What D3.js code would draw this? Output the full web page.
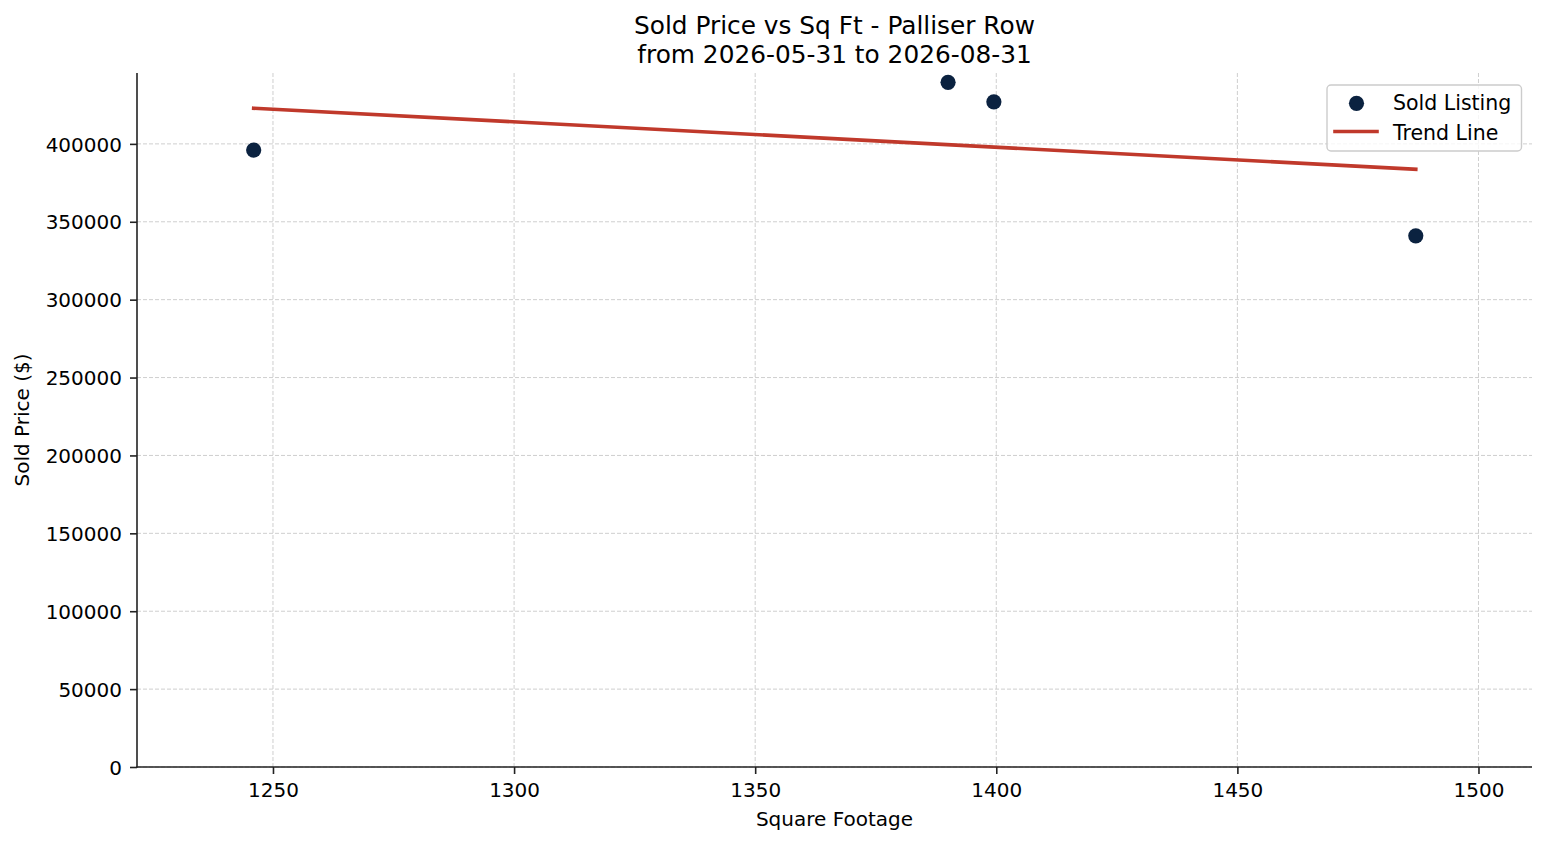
<!DOCTYPE html>
<html>
<head>
<meta charset="utf-8">
<script src="https://cdn.jsdelivr.net/npm/d3@7"></script>
<style>
  html, body { margin: 0; padding: 0; background: #fff; }
  svg { display: block; font-family: "DejaVu Sans", sans-serif; }
</style>
</head>
<body>
<svg id="chart" width="1547" height="845"></svg>
<script>
// ---- data ----
const sqft = [1246, 1390, 1399.5, 1487];
const soldPrice = [396000, 439500, 427000, 341000];
const trendSqft = [1246, 1487];
const trendPrice = [422900, 383700];
const xTicks = [1250, 1300, 1350, 1400, 1450, 1500];
const yTicks = [0, 50000, 100000, 150000, 200000, 250000, 300000, 350000, 400000];
const titleLines = ["Sold Price vs Sq Ft - Palliser Row", "from 2026-05-31 to 2026-08-31"];
const legendLabels = ["Sold Listing", "Trend Line"];

// ---- layout ----
const W = 1547, H = 845;
const m = { left: 137, top: 73, right: 1532, bottom: 767 };
const navy = "#0b2240", red = "#c0392b";

const svg = d3.select("#chart");
const x = d3.scaleLinear().domain([1221.8, 1511.1]).range([m.left, m.right]);
const y = d3.scaleLinear().domain([0, 445500]).range([m.bottom, m.top]);

// grid
const grid = svg.append("g");
grid.selectAll("line.gx").data(xTicks).join("line")
  .attr("x1", d => x(d)).attr("x2", d => x(d))
  .attr("y1", m.top).attr("y2", m.bottom)
  .attr("stroke", "#cfcfcf").attr("stroke-width", 1).attr("stroke-dasharray", "4,2");
grid.selectAll("line.gy").data(yTicks).join("line")
  .attr("x1", m.left).attr("x2", m.right)
  .attr("y1", d => y(d)).attr("y2", d => y(d))
  .attr("stroke", "#cfcfcf").attr("stroke-width", 1).attr("stroke-dasharray", "4,2");

// axes
const xAxis = d3.axisBottom(x).tickValues(xTicks).tickFormat(d3.format("d")).tickSize(7).tickPadding(8);
const yAxis = d3.axisLeft(y).tickValues(yTicks).tickFormat(d3.format("d")).tickSize(7).tickPadding(8);

const gx = svg.append("g").attr("transform", `translate(0,${m.bottom})`).call(xAxis);
const gy = svg.append("g").attr("transform", `translate(${m.left},0)`).call(yAxis);
[gx, gy].forEach(g => {
  g.select(".domain").remove();
  g.selectAll(".tick line").attr("stroke", "#222").attr("stroke-width", 1.6);
  g.selectAll(".tick text").attr("fill", "#000").style("font-size", "20px")
    .style("font-family", "'DejaVu Sans', sans-serif");
});
gx.selectAll(".tick text").attr("dy", null).attr("y", 30);
gy.selectAll(".tick text").attr("dy", "0.36em");

// spines
svg.append("line").attr("x1", m.left).attr("x2", m.left).attr("y1", m.top).attr("y2", m.bottom + 0.8)
  .attr("stroke", "#222").attr("stroke-width", 1.6);
svg.append("line").attr("x1", m.left - 0.8).attr("x2", m.right).attr("y1", m.bottom).attr("y2", m.bottom)
  .attr("stroke", "#222").attr("stroke-width", 1.6);

// trend line
const trendData = trendSqft.map((d, i) => [d, trendPrice[i]]);
svg.append("path").datum(trendData)
  .attr("d", d3.line().x(d => x(d[0])).y(d => y(d[1])))
  .attr("fill", "none").attr("stroke", red).attr("stroke-width", 3.6).attr("stroke-linecap", "square");

// points
svg.append("g").selectAll("circle").data(sqft.map((d, i) => [d, soldPrice[i]])).join("circle")
  .attr("cx", d => x(d[0])).attr("cy", d => y(d[1])).attr("r", 7.6).attr("fill", navy);

// title
svg.append("text").attr("x", (m.left + m.right) / 2).attr("y", 34).attr("text-anchor", "middle")
  .style("font-size", "24.8px").attr("fill", "#000").text(titleLines[0]);
svg.append("text").attr("x", (m.left + m.right) / 2).attr("y", 62.5).attr("text-anchor", "middle")
  .style("font-size", "24.8px").attr("fill", "#000").text(titleLines[1]);

// axis labels
svg.append("text").attr("x", (m.left + m.right) / 2).attr("y", 826).attr("text-anchor", "middle")
  .style("font-size", "20px").attr("fill", "#000").text("Square Footage");
svg.append("text").attr("transform", `translate(29,${(m.top + m.bottom) / 2}) rotate(-90)`)
  .attr("text-anchor", "middle").style("font-size", "20px").attr("fill", "#000").text("Sold Price ($)");

// legend
const lg = svg.append("g");
lg.append("rect").attr("x", 1327).attr("y", 85).attr("width", 194.5).attr("height", 66)
  .attr("rx", 4).attr("fill", "#fff").attr("fill-opacity", 0.8).attr("stroke", "#cccccc").attr("stroke-width", 1.4);
lg.append("circle").attr("cx", 1356.5).attr("cy", 103.3).attr("r", 7.6).attr("fill", navy);
lg.append("line").attr("x1", 1335).attr("x2", 1377).attr("y1", 131.5).attr("y2", 131.5)
  .attr("stroke", red).attr("stroke-width", 3.6).attr("stroke-linecap", "square");
lg.selectAll("text").data(legendLabels).join("text")
  .attr("x", 1393).attr("y", (d, i) => 110 + i * 29.5)
  .style("font-size", "20.5px").attr("fill", "#000").text(d => d);
</script>
</body>
</html>
